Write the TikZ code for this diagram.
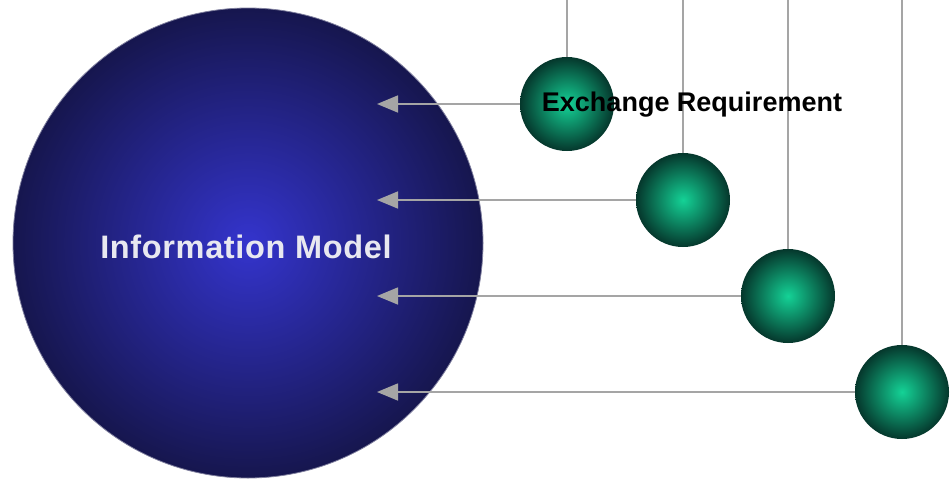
\documentclass[tikz,border=0pt]{standalone}
\usepackage{fontspec}
\setmainfont{Liberation Sans}
\usetikzlibrary{arrows.meta,shadings}
\definecolor{modelin}{RGB}{52,52,205}
\definecolor{modelout}{RGB}{22,22,78}
\definecolor{reqin}{RGB}{20,210,150}
\definecolor{reqout}{RGB}{5,55,44}
\definecolor{linkgray}{RGB}{165,165,165}
\definecolor{modeltext}{RGB}{232,232,240}
\tikzstyle{model}=[circle,inner sep=0pt,minimum size=470pt,inner color=modelin,outer color=modelout,draw=modelout!55!white,line width=0.8pt]
\tikzstyle{reqball}=[circle,inner sep=0pt,minimum size=94pt,inner color=reqin,outer color=reqout]
\tikzstyle{link}=[draw=linkgray,line width=1.6pt]
\tikzstyle{arrowlink}=[link,-{Triangle[length=21pt,width=17pt]}]
\tikzstyle{label}=[font=\bfseries\fontsize{32.5}{36}\selectfont\addfontfeatures{LetterSpace=2}]
\tikzstyle{smalllabel}=[font=\bfseries\fontsize{27}{30}\selectfont]

\begin{document}
\begin{tikzpicture}[x=1pt,y=-1pt]

   \useasboundingbox (0,0) rectangle (950,482);
   \def\tipx{377};

% big circle
   \node[model] (im) at (248,243) {};
   \node[label,modeltext] (imtext) at (246,247) {Information Model};

% spheres
    \foreach \pos/\name in {{(567,104)/er1}, {(683,200)/er2}, {(788,296)/er3}, {(902,392)/er4}}
        \node[reqball] (\name) at \pos {};

% free ends
    \foreach \x/\y/\i in {567/104/1, 683/200/2, 788/296/3, 902/392/4}
    {
        \coordinate (top\i) at (\x,0);
        \coordinate (tip\i) at (\tipx,\y);
    }

% connectors
    \foreach \i in {1,...,4}
    {
        \path[link] (top\i) -- (er\i.north);
        \path[arrowlink] (er\i.west) -- (tip\i);
    }

   \node[smalllabel,black] (ertext) at (692,105) {Exchange Requirement};

\end{tikzpicture}
\end{document}
